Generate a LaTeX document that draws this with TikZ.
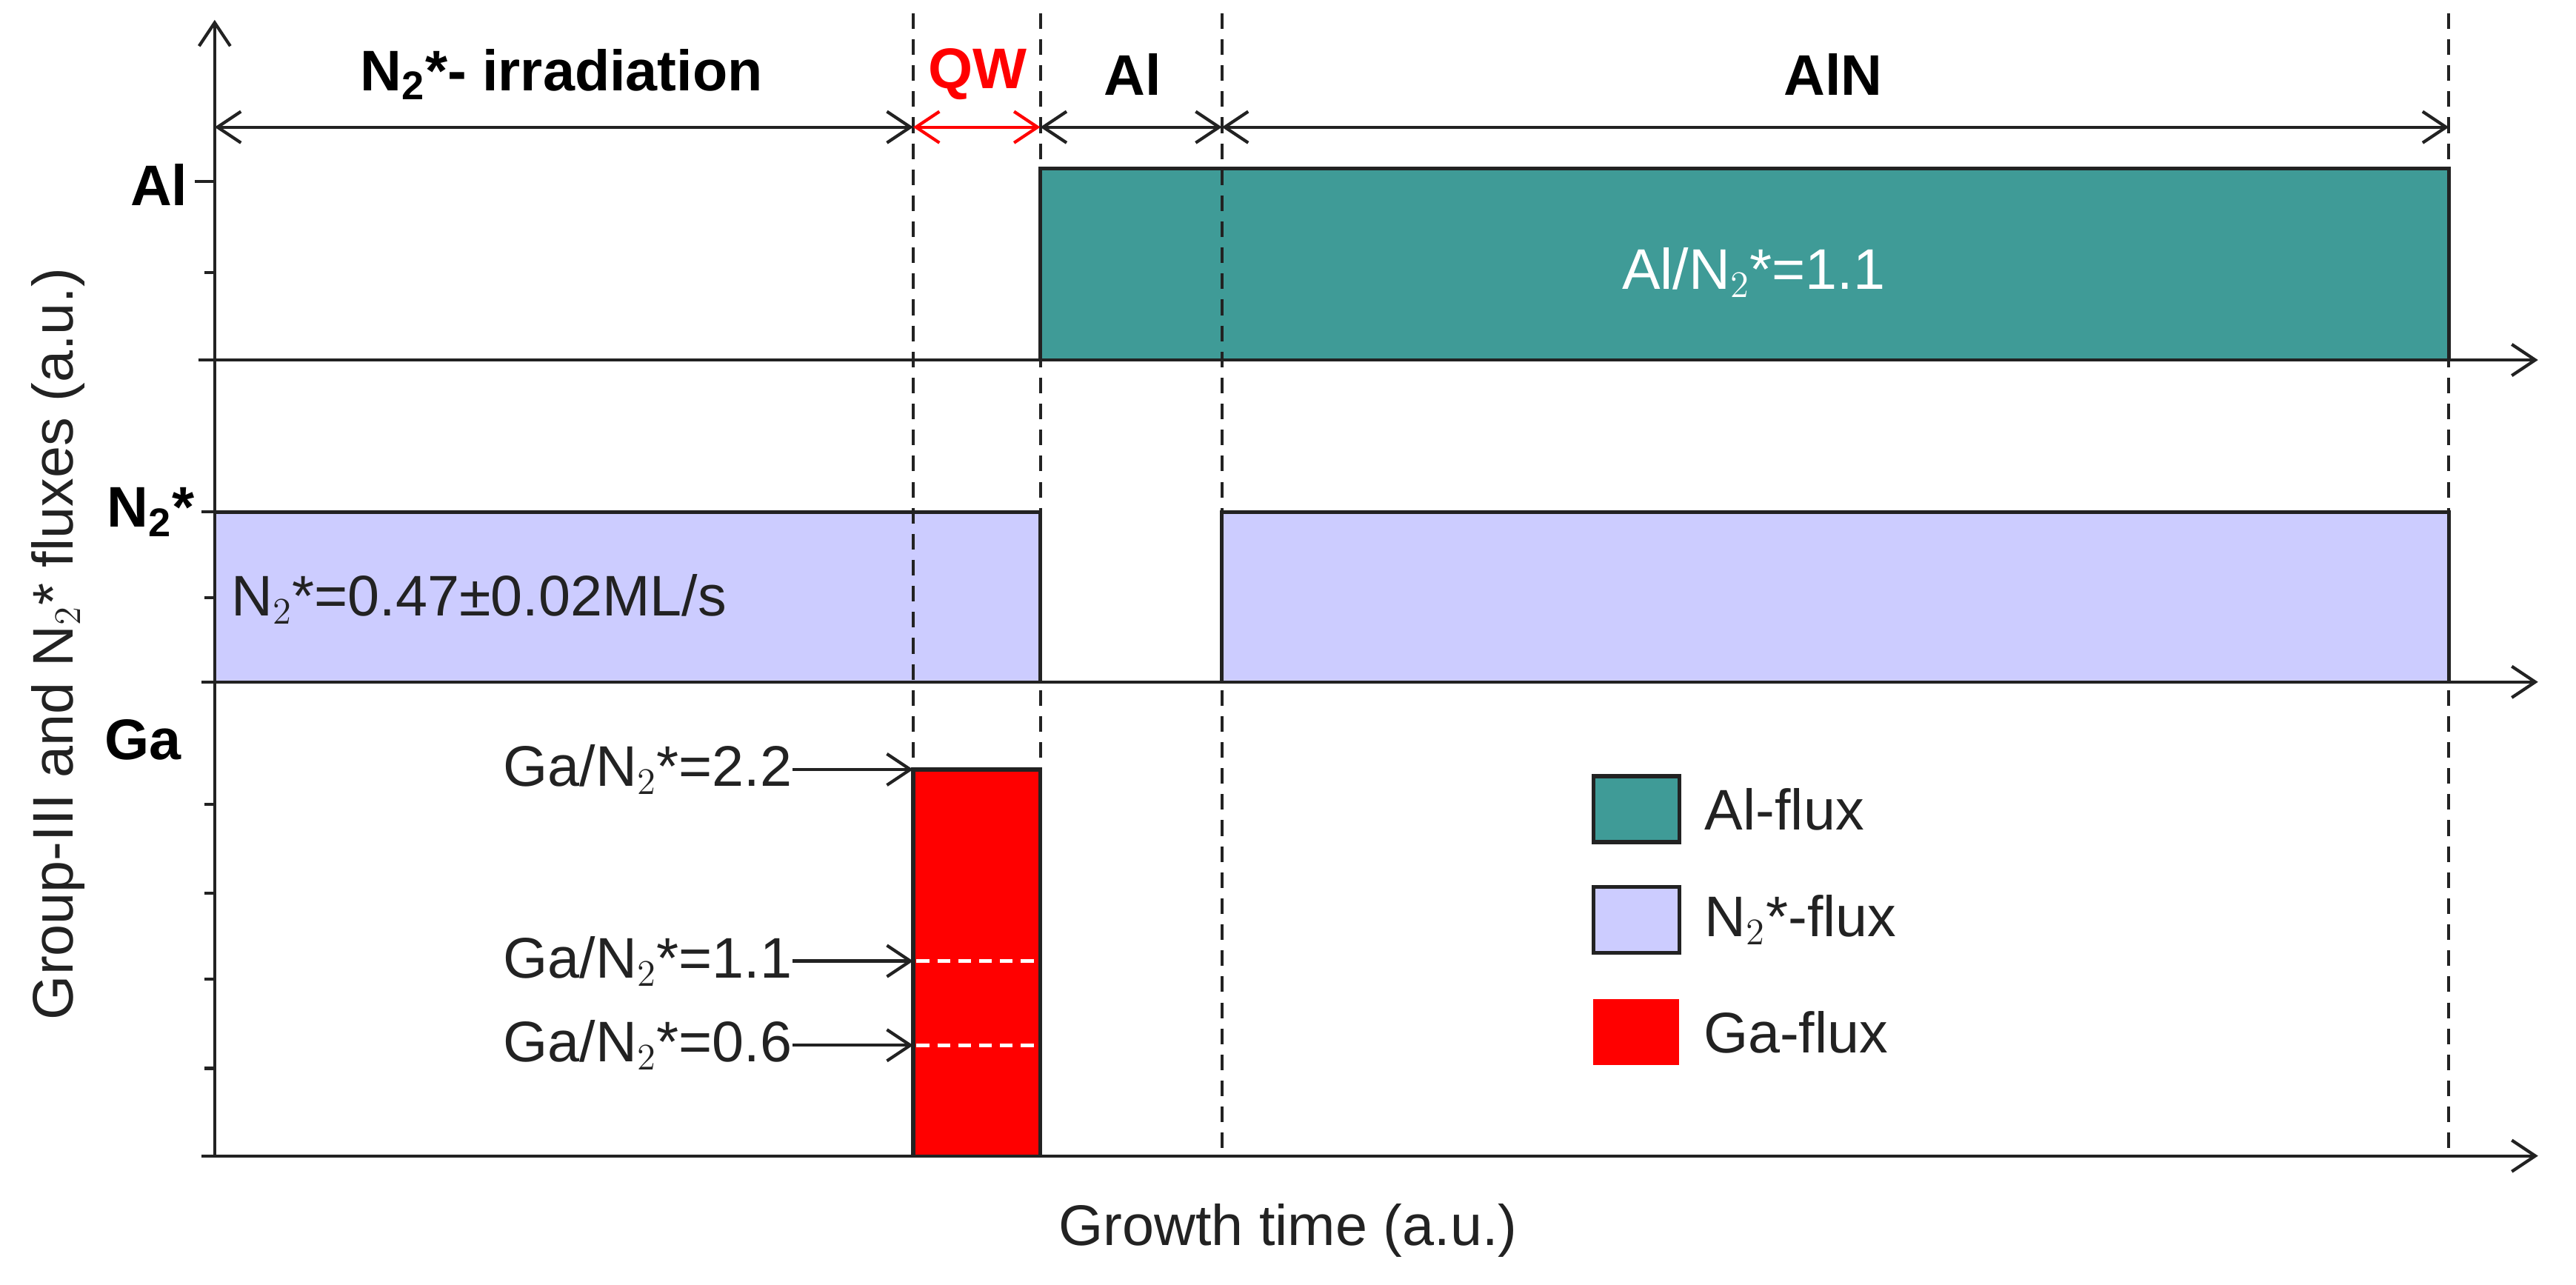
\documentclass[tikz,border=0pt]{standalone}
\usepackage{fontspec}
\setmainfont{Liberation Sans}
\usetikzlibrary{arrows.meta}
\definecolor{teal1}{HTML}{3F9B97}
\definecolor{lav}{HTML}{CCCCFF}
\definecolor{txt}{HTML}{222222}
\begin{document}
\begin{tikzpicture}[x=0.0223cm,y=-0.0223cm,
  ln/.style={line width=1.2pt,draw=txt},
  ax/.style={ln,-{Straight Barb[length=9pt,width=12pt]}},
  dim/.style={ln,{Straight Barb[length=9pt,width=12pt]}-{Straight Barb[length=9pt,width=12pt]}},
  dsh/.style={line width=1.1pt,draw=txt,dash pattern=on 6pt off 4pt},
  box/.style={ln,line width=1.5pt},
  lab/.style={font=\fontsize{22}{24}\selectfont,text=txt,inner sep=0pt},
  blab/.style={font=\bfseries\fontsize{22}{24}\selectfont,text=black,inner sep=0pt}]
\useasboundingbox (0,0) rectangle (1560,778);
% boxes
\fill[teal1] (630,102) rectangle (1483,218);
\draw[box] (630,218) -- (630,102) -- (1483,102) -- (1483,218);
\fill[lav] (130,310) rectangle (630,413);
\draw[box] (130,310) -- (630,310) -- (630,413);
\fill[lav] (740,310) rectangle (1483,413);
\draw[box] (740,413) -- (740,310) -- (1483,310) -- (1483,413);
\fill[red] (553,466) rectangle (630,700);
\draw[box] (553,700) -- (553,466) -- (630,466) -- (630,700);
\draw[white,line width=1.5pt,dash pattern=on 5pt off 3pt] (555,582) -- (628,582);
\draw[white,line width=1.5pt,dash pattern=on 5pt off 3pt] (555,633) -- (628,633);
% axes
\coordinate (o) at (130,700);
\coordinate (ytop) at (130,12);
\draw[ax] (o) -- (ytop);
\coordinate (a0) at (120,218); \coordinate (a1) at (1537,218);
\coordinate (n0) at (122,413); \coordinate (n1) at (1537,413);
\coordinate (g0) at (122,700); \coordinate (g1) at (1537,700);
\draw[ax] (a0) -- (a1);
\draw[ax] (n0) -- (n1);
\draw[ax] (g0) -- (g1);
\foreach \y/\l in {110/12,165/6,310/8,362/6,487/6,541/6,593/6,647/6}
  \draw[ln] (130,\y) -- ++(-\l,0);
% dashed verticals
\foreach \x in {553,630,740,1483} \draw[dsh] (\x,8) -- (\x,700);
% dimension arrows
\coordinate (d0) at (130,77); \coordinate (d1) at (553,77);
\coordinate (d2) at (630,77); \coordinate (d3) at (740,77); \coordinate (d4) at (1483,77);
\draw[dim] (d0) -- (d1);
\draw[dim,draw=red] (d1) -- (d2);
\draw[dim] (d2) -- (d3);
\draw[dim] (d3) -- (d4);
\node[blab] (t1) at (340,45) {N$_{\mathbf 2}$*- irradiation};
\node[blab,text=red] (t2) at (592,45) {QW};
\node[blab] (t3) at (686,45) {Al};
\node[blab] (t4) at (1110,45) {AlN};
% tick labels
\node[blab,anchor=east] (la) at (114,112) {Al};
\node[blab,anchor=east] (ln2) at (118,310) {N$_{\mathbf 2}$*};
\node[blab,anchor=east] (lg) at (110,448) {Ga};
% box texts
\node[lab,text=white] (ta) at (1062,165) {Al/N$_2$*=1.1};
\node[lab] (tn) at (290,363) {N$_2$*=0.47±0.02ML/s};
% Ga labels
\node[lab,anchor=east] (g22) at (480,466) {Ga/N$_2$*=2.2};
\node[lab,anchor=east] (g11) at (480,582) {Ga/N$_2$*=1.1};
\node[lab,anchor=east] (g06) at (480,633) {Ga/N$_2$*=0.6};
\coordinate (p22) at (553,466); \coordinate (p11) at (553,582); \coordinate (p06) at (553,633);
\draw[ax] (g22.east) -- (p22);
\draw[ax] (g11.east) -- (p11);
\draw[ax] (g06.east) -- (p06);
% legend
\node[draw=txt,line width=1.5pt,fill=teal1,minimum width=52*0.0223cm,minimum height=40*0.0223cm,inner sep=0pt] (k1) at (991,490) {};
\node[draw=txt,line width=1.5pt,fill=lav,minimum width=52*0.0223cm,minimum height=40*0.0223cm,inner sep=0pt] (k2) at (991,557) {};
\node[fill=red,minimum width=52*0.0223cm,minimum height=40*0.0223cm,inner sep=0pt] (k3) at (991,625) {};
\node[lab,anchor=west] at ([xshift=14*0.0223cm]k1.east) {Al-flux};
\node[lab,anchor=west] at ([xshift=14*0.0223cm]k2.east) {N$_2$*-flux};
\node[lab,anchor=west] at ([xshift=14*0.0223cm]k3.east) {Ga-flux};
% axis labels
\node[lab] (xl) at (780,745) {Growth time (a.u.)};
\node[lab,rotate=90] (yl) at (35,390) {Group-III and N$_2$* fluxes (a.u.)};
\end{tikzpicture}
\end{document}
